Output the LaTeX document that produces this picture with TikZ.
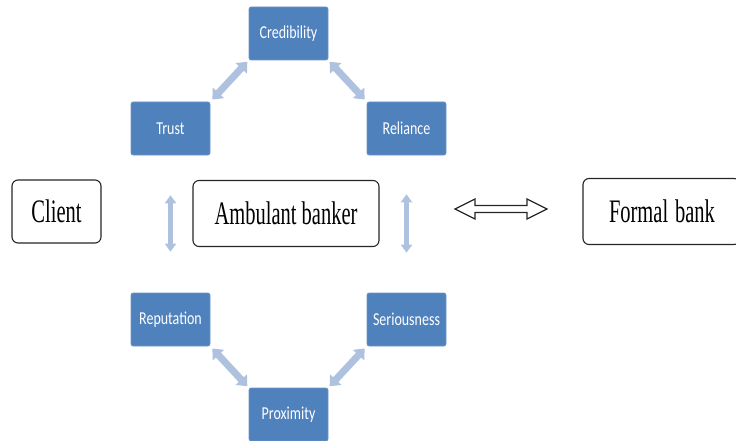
\documentclass[tikz,border=0pt]{standalone}
\usepackage{fontspec}
\setmainfont{Liberation Serif}
\newfontfamily\calib{Carlito}
\usetikzlibrary{arrows.meta}
\definecolor{boxblue}{HTML}{4F81BD}
\definecolor{boxedge}{HTML}{6E96C8}
\definecolor{arrblue}{HTML}{AEC2E0}
\tikzset{
  bluebox/.style={draw=boxedge, line width=0.6pt, fill=boxblue, rounded corners=2pt,
    minimum width=79pt, minimum height=53pt, inner sep=0pt, text=white,
    font=\calib\fontsize{14}{16}\selectfont},
  whitebox/.style={draw=black!85, line width=1.1pt, rounded corners=6pt, fill=white,
    inner sep=0pt, font=\fontsize{20.5}{24}\selectfont},
  darrow/.style={draw=arrblue, line width=7pt,
    {Triangle[width=15pt,length=9pt]}-{Triangle[width=15pt,length=9pt]}},
  varrow/.style={draw=arrblue, line width=4.5pt,
    {Triangle[width=11pt,length=8pt]}-{Triangle[width=11pt,length=8pt]}},
  openarrow/.style={draw=black!85, line width=1.3pt, fill=white, line join=miter}
}
\newcommand{\tall}[2]{\scalebox{1}[#1]{#2}}
\begin{document}
\begin{tikzpicture}[x=1pt,y=-1pt]
\useasboundingbox (0,0) rectangle (736,441);
% blue boxes
\node[bluebox] (cred) at (288.5,33.5) {\tall{1.3}{Credibility}};
\node[bluebox] (trust) at (170.5,128.5) {\tall{1.3}{Trust}};
\node[bluebox] (rel) at (406.5,128.5) {\tall{1.3}{Reliance}};
\node[bluebox] (rep) at (170.5,319.5) {\tall{1.3}{Reputation}};
\node[bluebox] (ser) at (406.5,319.5) {\tall{1.3}{Seriousness}};
\node[bluebox] (prox) at (288.5,414.5) {\tall{1.3}{Proximity}};
% white boxes
\node[whitebox, minimum width=89pt, minimum height=63pt] (client) at (56.5,211.5) {\tall{1.6}{Client}};
\node[whitebox, minimum width=186pt, minimum height=66pt] (amb) at (286,213.5) {\tall{1.6}{Ambulant banker}};
\node[whitebox, minimum width=157pt, minimum height=66pt, text width=153pt, align=left] (formal) at (661.5,211.5) {\hspace{24pt}\tall{1.6}{Formal bank}};
% diagonal arrows
\draw[darrow, shorten <=3pt, shorten >=2pt] (trust.north east) -- (cred.south west);
\draw[darrow, shorten <=2pt, shorten >=3pt] (cred.south east) -- (rel.north west);
\draw[darrow, shorten <=3pt, shorten >=2pt] (rep.south east) -- (prox.north west);
\draw[darrow, shorten <=3pt, shorten >=2pt] (ser.south west) -- (prox.north east);
% vertical arrows
\draw[varrow, shorten <=40pt, shorten >=41pt] (trust.south) -- (rep.north);
\draw[varrow, shorten <=39pt, shorten >=40pt] (rel.south) -- (ser.north);
% open double arrow
\coordinate (dl) at (455,209);
\coordinate (dr) at (547,209);
\draw[openarrow] (dl) -- ++(20,-10) -- ++(0,6.5) -- ++(52,0) -- ++(0,-6.5)
  -- (dr) -- ++(-20,10) -- ++(0,-6.5) -- ++(-52,0) -- ++(0,6.5) -- cycle;
\end{tikzpicture}
\end{document}
